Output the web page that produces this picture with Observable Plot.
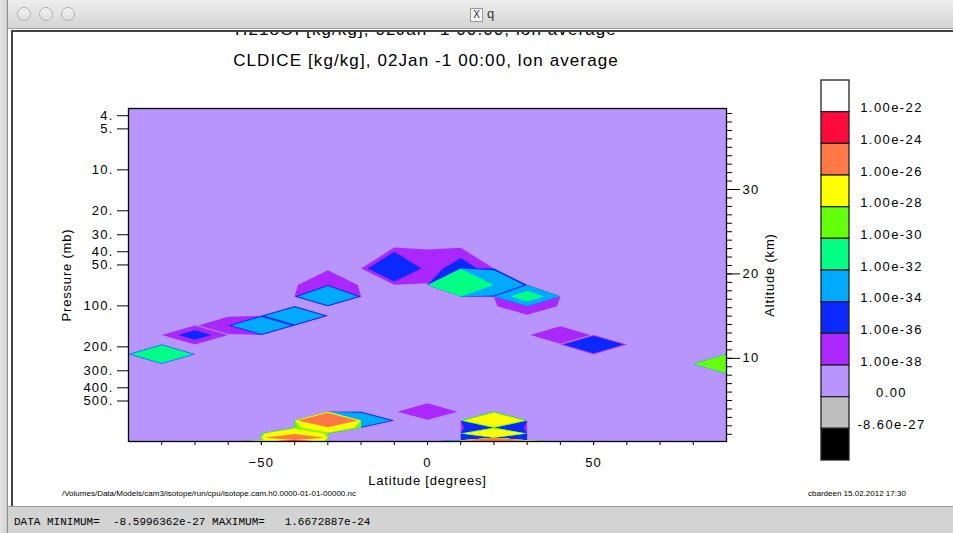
<!DOCTYPE html>
<html><head><meta charset="utf-8">
<script src="https://cdn.jsdelivr.net/npm/d3@7"></script>
<script src="https://cdn.jsdelivr.net/npm/@observablehq/plot@0.6"></script>
<style>
html,body{margin:0;padding:0;width:953px;height:533px;overflow:hidden;background:#fff;font-family:"Liberation Sans",Arial,sans-serif;}
#leftstrip{position:absolute;left:0;top:0;width:7px;height:533px;background:linear-gradient(90deg,#e4e4e4,#cfcfcf);border-right:1px solid #8c8c8c;}
#titlebar{position:absolute;left:8px;top:0;width:945px;height:28px;background:linear-gradient(#eeeeee,#d4d4d4);border-bottom:1px solid #a0a0a0;}
.light{position:absolute;top:7px;width:12px;height:12px;border-radius:50%;border:1px solid #b2b2b2;background:linear-gradient(#f2f2f2,#dedede);}
#wtitle{position:absolute;left:462px;top:6px;font-size:13px;color:#333;}
#wtitle .xl{display:inline-block;width:11px;height:12px;border:1px solid #999;font-size:10px;line-height:12px;text-align:center;margin-right:4px;background:#f6f6f6;}
#content{position:absolute;left:0;top:0;width:953px;height:533px;clip-path:inset(30px 0 27px 11px);}
#frameline{position:absolute;left:11px;top:30px;width:942px;height:476px;border-left:2px solid #444;border-top:2px solid #444;box-sizing:border-box;}
.title{position:absolute;left:76px;width:700px;text-align:center;font-size:17px;line-height:18px;letter-spacing:1.1px;color:#000;white-space:pre;}
.foot{position:absolute;font-size:8px;color:#000;white-space:pre;}
#status{position:absolute;left:8px;top:506px;width:945px;height:27px;background:#d3d3d3;border-top:1px solid #9a9a9a;}
#status span{position:absolute;left:6px;top:9px;font-family:"Liberation Mono","DejaVu Sans Mono",monospace;font-size:11px;white-space:pre;color:#000;}
#chart{position:absolute;left:0;top:0;}
#legend{position:absolute;left:810px;top:70px;}
#chart g[aria-label$="tick label"] text{letter-spacing:1.2px;}
#chart g[aria-label$="axis label"] text{letter-spacing:0.8px;}
#legend text{letter-spacing:1.4px;}
</style></head>
<body>
<div id="leftstrip"></div>
<div id="titlebar">
  <div class="light" style="left:9px"></div>
  <div class="light" style="left:31px"></div>
  <div class="light" style="left:53px"></div>
  <div id="wtitle"><span class="xl">X</span>q</div>
</div>
<div id="content">
  <div id="chart"></div>
  <div class="title" id="t1" style="top:21px"></div>
  <div class="title" id="t2" style="top:52px"></div>
  <div id="legend"></div>
  <div class="foot" id="f1" style="left:62px;top:489px"></div>
  <div class="foot" id="f2" style="left:808px;top:489px"></div>
  <div id="frameline"></div>
</div>
<div id="status"><span id="stat"></span></div>
<script>
// ---- Data ----
const titleLine1 = "H218OI [kg/kg], 02Jan -1 00:00, lon average";
const titleLine2 = "CLDICE [kg/kg], 02Jan -1 00:00, lon average";
const footLeft = "/Volumes/Data/Models/cam3/isotope/run/cpu/isotope.cam.h0.0000-01-01-00000.nc";
const footRight = "cbardeen 15.02.2012 17:30";
const statusText = "DATA MINIMUM=  -8.5996362e-27 MAXIMUM=   1.6672887e-24";

// model grid
const latitudes = [-90,-80,-70,-60,-50,-40,-30,-20,-10,0,10,20,30,40,50,60,70,80,90];
const levels = [3.54,7.39,13.97,23.94,37.23,53.11,70.06,85.44,100.51,118.25,139.12,163.66,192.54,226.51,266.48,313.50,368.82,433.90,510.46,600.52,696.80,787.70,867.16,929.65,970.55,992.56];

// non-zero CLDICE grid values (lat, pressure level, kg/kg)
const iceLat =      [-80,  -70,   -60,   -50,   -40,   -30,   -30,   -10,   0,     10,    10,      20,    30,    30,    40,    50,    90,    0,     -30,   -20,   -30,   -40,   -40,   -40,   -50,   -40,   20,    20,    20,    20,    20,    20,    30,    10];
const icePressure = [226.51,163.66,139.12,139.12,118.25,70.06,85.44,53.11,53.11,53.11,70.06,   70.06, 85.44, 100.51,163.66,192.54,266.48,600.52,696.80,696.80,787.70,867.16,929.65,970.55,992.56,992.56,696.80,787.70,867.16,929.65,970.55,992.56,992.56,992.56];
const iceValue =    [1e-31,2e-36,1e-37,1e-33,1e-33,1e-37,1e-33,5e-36,1e-37,2e-36,1.05e-30,1e-33,2e-32,1e-37,1e-37,1e-35,5e-29,1e-37,1e-25,1e-33,5e-28,1e-27,1e-25,1e-27,1e-27,1e-23,1e-27,1e-35,1e-27,1e-34,1e-24,1e-27,1e-26,1e-30];

// colour legend (top to bottom) and level labels
const legendColors = ["#ffffff","#ff0a3c","#ff7846","#ffff00","#64ff0a","#00ff82","#00aaff","#0a28ff","#aa28ff","#b894fd","#bebebe","#000000"];
const legendLabels = ["1.00e-22","1.00e-24","1.00e-26","1.00e-28","1.00e-30","1.00e-32","1.00e-34","1.00e-36","1.00e-38","0.00","-8.60e-27"];
const levelValues = [1e-22,1e-24,1e-26,1e-28,1e-30,1e-32,1e-34,1e-36,1e-38,0,-8.6e-27];

// axis ticks
const pressureTicks = [4,5,10,20,30,40,50,100,200,300,400,500];
const altitudeMajor = [10,20,30];
const altitudeMinor = d3.range(1,40);
const latMajor = [-50,0,50];
const latMinor = d3.range(-80,81,10);
const scaleHeight = 7, surfacePressure = 1013.25;

// ---- Build grid & contours ----
const nx = latitudes.length, ny = levels.length;
const grid = new Array(nx*ny).fill(0);
iceLat.forEach((lat,k) => {
  grid[levels.indexOf(icePressure[k])*nx + latitudes.indexOf(lat)] = iceValue[k];
});
const uLevels = levels.map(Math.log10);
function interp(arr, f) {
  f = Math.max(0, Math.min(arr.length-1, f));
  const i = Math.min(arr.length-2, Math.floor(f));
  return arr[i] + (f-i)*(arr[i+1]-arr[i]);
}
const colorDomain = [...levelValues].reverse();
const colorRange = [...legendColors].reverse();
const thresholds = colorDomain.filter(t => t >= 0);
const contours = d3.contours().size([nx, ny]).thresholds(thresholds)(grid);
const features = contours.map(g => ({
  type: "MultiPolygon", value: g.value,
  coordinates: g.coordinates.map(poly => poly.map(ring => ring.map(([c,r]) => [interp(latitudes, c-0.5), interp(uLevels, r-0.5)])))
}));

const zToU = z => Math.log10(surfacePressure*Math.exp(-z/scaleHeight));
const uToZ = u => -scaleHeight*Math.log(10**u/surfacePressure);
const fmtLat = d => d < 0 ? "\u2212" + (-d) : String(d);
const font = "Liberation Sans, Arial, sans-serif";

const chart = Plot.plot({
  width: 953, height: 533,
  marginTop: 108, marginBottom: 92, marginLeft: 128, marginRight: 227,
  style: {fontFamily: font, fontSize: "13px", background: "transparent", color: "black", overflow: "visible"},
  x: {domain: [-90, 90]},
  y: {domain: [uLevels[0], uLevels[ny-1]], reverse: true},
  color: {type: "threshold", domain: colorDomain, range: colorRange},
  marks: [
    Plot.geo(features, {fill: d => d.value, stroke: "none"}),
    Plot.frame({stroke: "black", strokeWidth: 1.3}),
    Plot.axisX(latMinor, {tickSize: 4, tickFormat: () => "", label: null}),
    Plot.axisX(latMajor, {tickSize: 4, tickPadding: 12, tickFormat: fmtLat, fontSize: 13,
      label: "Latitude [degrees]", labelAnchor: "center", labelOffset: 43, labelArrow: "none"}),
    Plot.axisY(pressureTicks.map(Math.log10), {anchor: "left", tickSize: 11, tickPadding: 4, fontSize: 13,
      tickFormat: d => Math.round(10**d) + ".", label: "Pressure (mb)", labelAnchor: "center", labelOffset: 67, labelArrow: "none"}),
    Plot.axisY(altitudeMinor.map(zToU), {anchor: "right", tickSize: 5, tickFormat: () => "", label: null}),
    Plot.axisY(altitudeMajor.map(zToU), {anchor: "right", tickSize: 13, tickPadding: 3, fontSize: 13,
      tickFormat: d => String(Math.round(uToZ(d))), label: "Altitude (km)", labelAnchor: "center", labelOffset: 47, labelArrow: "none"})
  ]
});
document.getElementById("chart").append(chart);

const legend = Plot.plot({
  width: 143, height: 400, marginTop: 10, marginBottom: 10, marginLeft: 11, marginRight: 104,
  style: {fontFamily: font, fontSize: "13px", background: "transparent", color: "black", overflow: "visible"},
  x: {domain: [0, 1], axis: null},
  y: {domain: [0, legendColors.length], reverse: true, axis: null},
  color: {type: "identity"},
  marks: [
    Plot.rect(legendColors, {x1: 0, x2: 1, y1: (d,i) => i, y2: (d,i) => i+1, fill: d => d, stroke: "#222", strokeWidth: 1.3}),
    Plot.text(legendLabels, {x: 2.5, y: (d,i) => i+1, text: d => d, dy: -4, fontSize: 13})
  ]
});
document.getElementById("legend").append(legend);

document.getElementById("t1").textContent = titleLine1;
document.getElementById("t2").textContent = titleLine2;
document.getElementById("f1").textContent = footLeft;
document.getElementById("f2").textContent = footRight;
document.getElementById("stat").textContent = statusText;
</script>
</body></html>
